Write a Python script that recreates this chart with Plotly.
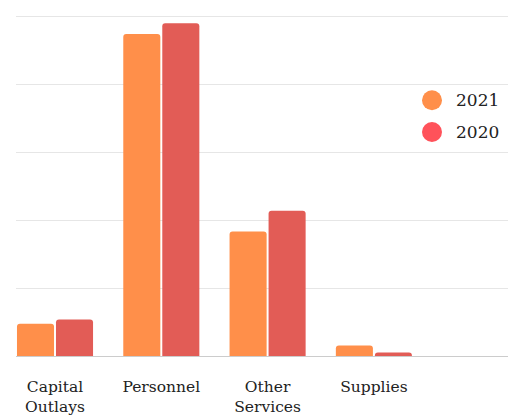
import plotly.graph_objects as go

categories = ["Capital<br>Outlays", "Personnel", "Other<br>Services", "Supplies"]
values_2021 = [0.95, 9.47, 3.66, 0.31]
values_2020 = [1.07, 9.79, 4.27, 0.10]
series_names = ["2021", "2020"]

bar_colors = ["#FF8F4A", "#E25C56"]
legend_colors = ["#FF8F4A", "#FF525A"]

xpos = list(range(len(categories)))

fig = go.Figure()
for name, vals, col in zip(series_names, [values_2021, values_2020], bar_colors):
    fig.add_trace(go.Bar(x=xpos, y=vals, name=name, marker=dict(color=col, line=dict(width=0)),
                         showlegend=False))

# page offset of the figure (browser body margin)
OFF = 8
PLOT_L, PLOT_R, PLOT_T, BASE = 16, 516, 14, 359
W, H = PLOT_R - PLOT_L, BASE - PLOT_T
for i, (name, col) in enumerate(zip(series_names, legend_colors)):
    cy = 101 + 32 * i
    cx = 432
    px = (cx - PLOT_L) / W
    py = (BASE - cy) / H
    r = 10
    fig.add_shape(type="circle", xref="paper", yref="paper",
                  x0=px - r / W, x1=px + r / W, y0=py - r / H, y1=py + r / H,
                  fillcolor=col, line=dict(width=0))
    fig.add_annotation(xref="paper", yref="paper", x=(454 - PLOT_L) / W, y=py, text=name,
                       showarrow=False, xanchor="left", yanchor="middle",
                       font=dict(family="DejaVu Serif", size=17, color="#222222"))

fig.update_layout(
    width=516 - OFF, height=416 - OFF,
    margin=dict(l=PLOT_L - OFF, r=0, t=PLOT_T - OFF, b=416 - BASE, pad=0),
    paper_bgcolor="white", plot_bgcolor="white",
    barmode="group", bargap=0.266, bargroupgap=0.05,
    barcornerradius=3,
    font=dict(family="DejaVu Serif", size=15, color="#222222"),
    xaxis=dict(range=[-0.367, 4.337], tickvals=xpos, ticktext=categories,
               showgrid=False, zeroline=False, showline=True, linecolor="#cccccc", linewidth=1,
               ticks="", ticklabelstandoff=16, tickfont=dict(size=15.5)),
    yaxis=dict(range=[0, 10.06], dtick=2, showticklabels=False, showgrid=True,
               gridcolor="#e6e6e6", gridwidth=1, zeroline=False, showline=False),
)

fig.write_html("out.html")
